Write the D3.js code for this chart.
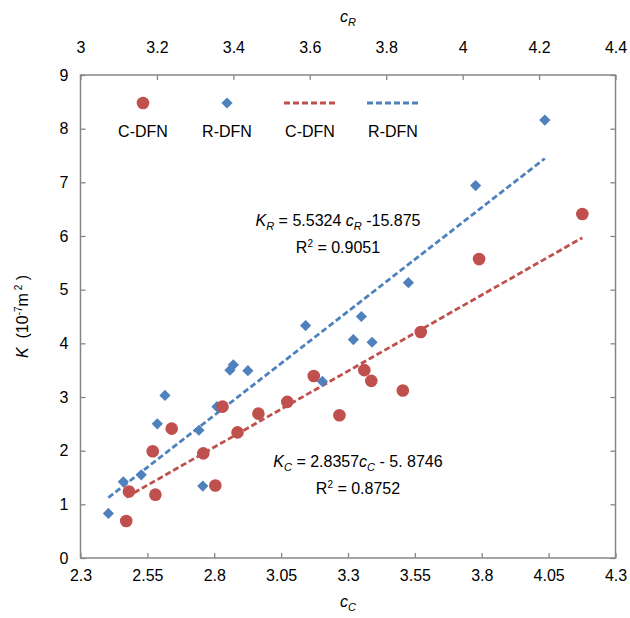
<!DOCTYPE html>
<html>
<head>
<meta charset="utf-8">
<script src="https://cdn.jsdelivr.net/npm/d3@7"></script>
<style>
  body { margin: 0; background: #fff; }
  text { font-family: Arial, "Liberation Sans", sans-serif; fill: #000; }
</style>
</head>
<body>
<div id="vis-container"></div>
<script>
// ------------------------------ DATA ------------------------------ //
// C-DFN samples (bottom axis c_C)
const cC = [2.471, 2.481, 2.570, 2.580, 2.641, 2.759, 2.804, 2.831, 2.887, 2.965,
            3.073, 3.172, 3.268, 3.361, 3.387, 3.505, 3.572, 3.790, 4.176];
const kC = [0.69, 1.24, 1.99, 1.18, 2.41, 1.95, 1.35, 2.82, 2.34, 2.69,
            2.91, 3.39, 2.66, 3.50, 3.30, 3.12, 4.21, 5.57, 6.41];

// R-DFN samples (top axis c_R)
const cR = [3.073, 3.112, 3.159, 3.201, 3.221, 3.310, 3.320, 3.357, 3.391, 3.400,
            3.438, 3.589, 3.633, 3.714, 3.735, 3.763, 3.858, 4.034, 4.215];
const kR = [0.83, 1.42, 1.55, 2.50, 3.03, 2.38, 1.34, 2.82, 3.50, 3.60,
            3.49, 4.33, 3.29, 4.07, 4.50, 4.02, 5.13, 6.94, 8.16];

// Linear fits shown on the chart
const fitC = [2.8357, -5.8746];
const fitR = [5.5324, -15.875];

// Tick values
const cCTicks = [2.3, 2.55, 2.8, 3.05, 3.3, 3.55, 3.8, 4.05, 4.3];
const cRTicks = [3, 3.2, 3.4, 3.6, 3.8, 4, 4.2, 4.4];
const kTicks = [0, 1, 2, 3, 4, 5, 6, 7, 8, 9];

const legendLabels = ["C-DFN", "R-DFN", "C-DFN", "R-DFN"];

// ------------------------------ SET UP ------------------------------ //
const width = 630;
const height = 618;
const plot = { left: 80.5, right: 615.5, top: 75, bottom: 558 };
const red = "#C0504D";
const blue = "#4F81BD";
const axisColor = "#868686";

const svg = d3.select("#vis-container")
  .append("svg")
  .attr("width", width)
  .attr("height", height);

svg.append("rect").attr("width", width).attr("height", height).attr("fill", "#fff");

const xC = d3.scaleLinear().domain([2.3, 4.3]).range([plot.left, plot.right]);
const xR = d3.scaleLinear().domain([3, 4.4]).range([plot.left, plot.right]);
const y = d3.scaleLinear().domain([0, 9]).range([plot.bottom, plot.top]);

const fmt = d => String(+d.toFixed(2));

// ------------------------------ AXES ------------------------------ //
function styleAxis(g) {
  g.select(".domain").remove();
  g.selectAll(".tick line").attr("stroke", axisColor).attr("stroke-width", 1.3);
  g.selectAll(".tick text").attr("font-size", "16px").attr("fill", "#000");
}

svg.append("g")
  .attr("transform", `translate(0,${plot.bottom})`)
  .call(d3.axisBottom(xC).tickValues(cCTicks).tickFormat(fmt).tickSize(-5).tickPadding(12))
  .call(styleAxis);

svg.append("g")
  .attr("transform", `translate(0,${plot.top})`)
  .call(d3.axisTop(xR).tickValues(cRTicks).tickFormat(fmt).tickSize(-5).tickPadding(22))
  .call(styleAxis);

svg.append("g")
  .attr("transform", `translate(${plot.left},0)`)
  .call(d3.axisLeft(y).tickValues(kTicks).tickSize(-5).tickPadding(12))
  .call(styleAxis);

svg.append("g")
  .attr("transform", `translate(${plot.right},0)`)
  .call(d3.axisRight(y).tickValues(kTicks).tickFormat("").tickSize(-5))
  .call(styleAxis);

// plot frame
svg.append("rect")
  .attr("x", plot.left)
  .attr("y", plot.top)
  .attr("width", plot.right - plot.left)
  .attr("height", plot.bottom - plot.top)
  .attr("fill", "none")
  .attr("stroke", axisColor)
  .attr("stroke-width", 1.5);

// axis titles
const cTitle = svg.append("text")
  .attr("x", (plot.left + plot.right) / 2)
  .attr("y", 607)
  .attr("text-anchor", "middle")
  .attr("font-size", "16px");
cTitle.append("tspan").attr("font-style", "italic").text("c");
cTitle.append("tspan").attr("font-style", "italic").attr("font-size", "11px").attr("dy", 4).text("C");

const rTitle = svg.append("text")
  .attr("x", (plot.left + plot.right) / 2)
  .attr("y", 22)
  .attr("text-anchor", "middle")
  .attr("font-size", "16px");
rTitle.append("tspan").attr("font-style", "italic").text("c");
rTitle.append("tspan").attr("font-style", "italic").attr("font-size", "11px").attr("dy", 4).text("R");

const kTitle = svg.append("text")
  .attr("transform", `translate(28,${(plot.top + plot.bottom) / 2}) rotate(-90)`)
  .attr("text-anchor", "middle")
  .attr("font-size", "16px");
kTitle.append("tspan").attr("font-style", "italic").text("K");
kTitle.append("tspan").text("\u00a0\u00a0(10");
kTitle.append("tspan").attr("font-size", "10px").attr("dy", -6).text("-7");
kTitle.append("tspan").attr("dy", 6).text("m");
kTitle.append("tspan").attr("font-size", "10px").attr("dy", -6).text("\u00a02");
kTitle.append("tspan").attr("dy", 6).text("\u00a0)");

// ------------------------------ MARKS ------------------------------ //
/**
 * Draws a dashed fit line over the x range of a series.
 */
function fitLine(xs, fit, xScale, color) {
  const x0 = d3.min(xs);
  const x1 = d3.max(xs);
  svg.append("line")
    .attr("x1", xScale(x0))
    .attr("y1", y(fit[0] * x0 + fit[1]))
    .attr("x2", xScale(x1))
    .attr("y2", y(fit[0] * x1 + fit[1]))
    .attr("stroke", color)
    .attr("stroke-width", 2.8)
    .attr("stroke-dasharray", "6,3");
}

fitLine(cC, fitC, xC, red);
fitLine(cR, fitR, xR, blue);

const diamond = d3.symbol().type(d3.symbolDiamond2).size(80);
const radius = 6.3;

svg.append("g")
  .selectAll("path")
  .data(d3.zip(cR, kR))
  .enter()
  .append("path")
  .attr("d", diamond)
  .attr("transform", d => `translate(${xR(d[0])},${y(d[1])})`)
  .attr("fill", blue);

svg.append("g")
  .selectAll("circle")
  .data(d3.zip(cC, kC))
  .enter()
  .append("circle")
  .attr("cx", d => xC(d[0]))
  .attr("cy", d => y(d[1]))
  .attr("r", radius)
  .attr("fill", red);

// ------------------------------ LEGEND ------------------------------ //
const legendX = [143, 227, 310, 393];
const legendY = 103;

svg.append("circle").attr("cx", legendX[0]).attr("cy", legendY).attr("r", radius).attr("fill", red);
svg.append("path").attr("d", diamond).attr("transform", `translate(${legendX[1]},${legendY})`).attr("fill", blue);
[[legendX[2], red], [legendX[3], blue]].forEach(([cx, color]) => {
  svg.append("line")
    .attr("x1", cx - 26).attr("x2", cx + 26)
    .attr("y1", legendY).attr("y2", legendY)
    .attr("stroke", color)
    .attr("stroke-width", 2.8)
    .attr("stroke-dasharray", "6,3");
});

svg.selectAll(".legend-label")
  .data(legendLabels)
  .enter()
  .append("text")
  .attr("class", "legend-label")
  .attr("x", (d, i) => legendX[i])
  .attr("y", 137)
  .attr("text-anchor", "middle")
  .attr("font-size", "16px")
  .text(d => d);

// ------------------------------ EQUATIONS ------------------------------ //
/**
 * Writes a two-line fit label: equation and R squared.
 */
function fitLabel(cx, y0, sub, slope, tail, r2) {
  const eq = svg.append("text")
    .attr("x", cx)
    .attr("y", y0)
    .attr("text-anchor", "middle")
    .attr("font-size", "16px");
  eq.append("tspan").attr("font-style", "italic").text("K");
  eq.append("tspan").attr("font-style", "italic").attr("font-size", "11px").attr("dy", 4).text(sub);
  eq.append("tspan").attr("dy", -4).text(" = " + slope);
  eq.append("tspan").attr("font-style", "italic").text("c");
  eq.append("tspan").attr("font-style", "italic").attr("font-size", "11px").attr("dy", 4).text(sub);
  eq.append("tspan").attr("dy", -4).text(tail);

  const r = svg.append("text")
    .attr("x", cx)
    .attr("y", y0 + 27)
    .attr("text-anchor", "middle")
    .attr("font-size", "16px");
  r.append("tspan").text("R");
  r.append("tspan").attr("font-size", "10px").attr("dy", -6).text("2");
  r.append("tspan").attr("dy", 6).text(" = " + r2);
}

fitLabel(338, 226, "R", "5.5324 ", " -15.875", "0.9051");
fitLabel(358, 467, "C", "2.8357", " - 5. 8746", "0.8752");
</script>
</body>
</html>
